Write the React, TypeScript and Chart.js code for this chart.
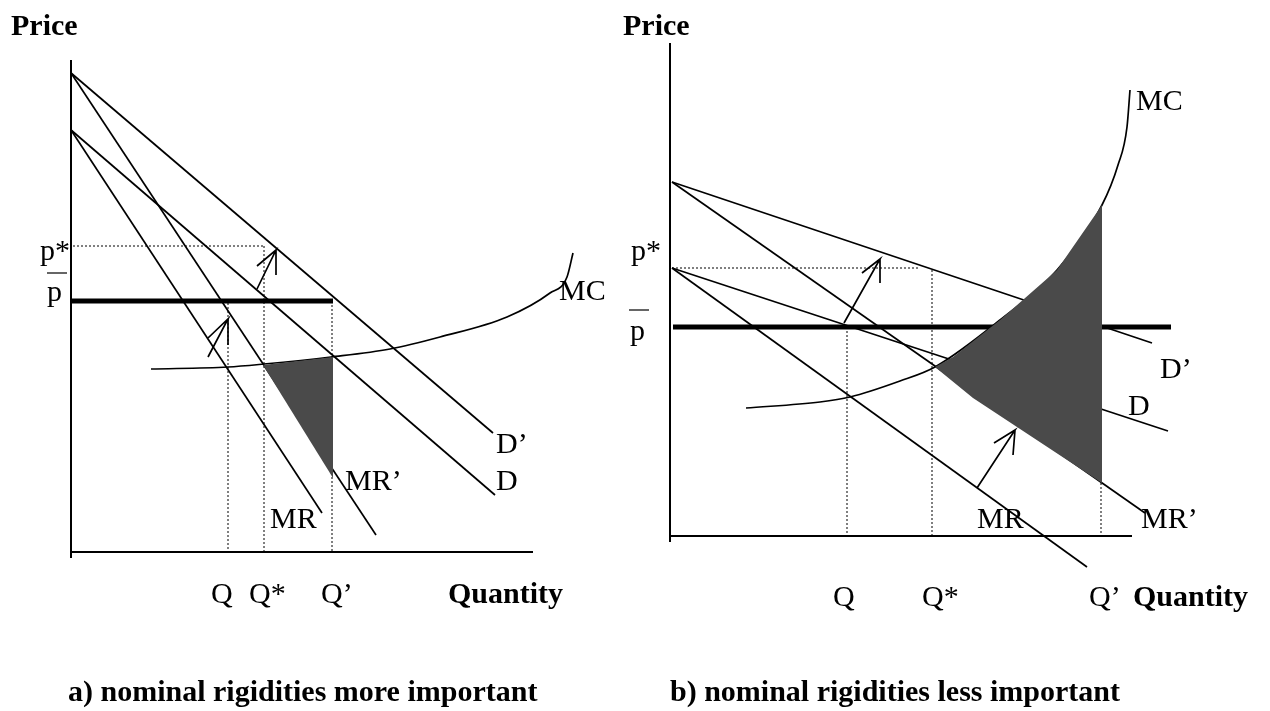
import React, { useEffect, useRef } from "react";
import { Chart, registerables } from "chart.js";
Chart.register(...registerables);

type P = { x: number; y: number };

// ---------- Panel a) nominal rigidities more important (quantity, price units) ----------
const aAxisY: P[] = [{ x: 0, y: -6 }, { x: 0, y: 492 }];
const aAxisX: P[] = [{ x: 0, y: 0 }, { x: 462, y: 0 }];
const aDemandNew: P[] = [{ x: 0, y: 479 }, { x: 422, y: 119 }]; // D'
const aMRNew: P[] = [{ x: 0, y: 479 }, { x: 305, y: 17 }]; // MR'
const aDemand: P[] = [{ x: 0, y: 422 }, { x: 424, y: 57 }]; // D
const aMR: P[] = [{ x: 0, y: 422 }, { x: 251, y: 39 }]; // MR
const aPbar: P[] = [{ x: 0, y: 251 }, { x: 262, y: 251 }];
const aPstar: P[] = [{ x: 2, y: 306 }, { x: 193, y: 306 }];
const aQ: P[] = [{ x: 157, y: 249 }, { x: 157, y: 0 }];
const aQstar: P[] = [{ x: 193, y: 306 }, { x: 193, y: 0 }];
const aQprime: P[] = [{ x: 261, y: 251 }, { x: 261, y: 0 }];
const aMC: P[] = [
  { x: 80, y: 183 }, { x: 157, y: 185 }, { x: 193, y: 188 }, { x: 260, y: 195 },
  { x: 319, y: 203 }, { x: 369, y: 215 }, { x: 436, y: 235 }, { x: 479, y: 259 },
  { x: 496, y: 275 }, { x: 502, y: 299 },
];
const aShade: P[] = [{ x: 192, y: 187 }, { x: 262, y: 195 }, { x: 262, y: 74 }];
const aArrow1: P[] = [{ x: 186, y: 263 }, { x: 205, y: 302 }, { x: 186, y: 286 }, { x: 205, y: 302 }, { x: 205, y: 277 }];
const aArrow2: P[] = [{ x: 137, y: 195 }, { x: 157, y: 233 }, { x: 137, y: 214 }, { x: 157, y: 233 }, { x: 157, y: 207 }];
const aBarMark: P[] = [{ x: -24, y: 279 }, { x: -4, y: 279 }];

// ---------- Panel b) nominal rigidities less important ----------
const bAxisY: P[] = [{ x: 0, y: -6 }, { x: 0, y: 493 }];
const bAxisX: P[] = [{ x: 0, y: 0 }, { x: 462, y: 0 }];
const bDemandNew: P[] = [{ x: 2, y: 354 }, { x: 482, y: 193 }]; // D'
const bMRNew: P[] = [{ x: 2, y: 354 }, { x: 475, y: 23 }]; // MR'
const bDemand: P[] = [{ x: 2, y: 268 }, { x: 498, y: 105 }]; // D
const bMR: P[] = [{ x: 2, y: 268 }, { x: 417, y: -31 }]; // MR
const bPbar: P[] = [{ x: 3, y: 209 }, { x: 501, y: 209 }];
const bPstar: P[] = [{ x: 2, y: 268 }, { x: 250, y: 268 }];
const bQ: P[] = [{ x: 177, y: 209 }, { x: 177, y: 0 }];
const bQstar: P[] = [{ x: 262, y: 266 }, { x: 262, y: 0 }];
const bQprime: P[] = [{ x: 431, y: 53 }, { x: 431, y: 0 }];
const bMC: P[] = [
  { x: 76, y: 128 }, { x: 150, y: 134 }, { x: 180, y: 139 }, { x: 230, y: 155 },
  { x: 265, y: 169 }, { x: 330, y: 216 }, { x: 387, y: 266 }, { x: 432, y: 331 },
  { x: 448, y: 371 }, { x: 457, y: 409 }, { x: 460, y: 446 },
];
const bShade: P[] = [
  { x: 265, y: 169 }, { x: 283, y: 179 }, { x: 330, y: 216 }, { x: 387, y: 266 },
  { x: 432, y: 331 }, { x: 432, y: 53 }, { x: 303, y: 138 },
];
const bArrow1: P[] = [{ x: 174, y: 213 }, { x: 210, y: 277 }, { x: 192, y: 263 }, { x: 210, y: 277 }, { x: 210, y: 253 }];
const bArrow2: P[] = [{ x: 307, y: 48 }, { x: 345, y: 106 }, { x: 324, y: 93 }, { x: 345, y: 106 }, { x: 343, y: 81 }];
const bBarMark: P[] = [{ x: -41, y: 226 }, { x: -21, y: 226 }];

// ---------- Labels ----------
type L = { t: string; x: number; y: number; b?: boolean };
const aLabels: L[] = [
  { t: "Price", x: -60, y: 517, b: true },
  { t: "p*", x: -31, y: 292 },
  { t: "p", x: -24, y: 251 },
  { t: "MR\u2019", x: 274, y: 62 },
  { t: "MR", x: 199, y: 24 },
  { t: "D\u2019", x: 425, y: 99 },
  { t: "D", x: 425, y: 62 },
  { t: "MC", x: 488, y: 252 },
  { t: "Q", x: 140, y: -51 },
  { t: "Q*", x: 178, y: -51 },
  { t: "Q\u2019", x: 250, y: -51 },
  { t: "Quantity", x: 377, y: -51, b: true },
  { t: "a) nominal rigidities more important", x: -3, y: -149, b: true },
];
const bLabels: L[] = [
  { t: "Price", x: -47, y: 501, b: true },
  { t: "p*", x: -39, y: 276 },
  { t: "p", x: -40, y: 196 },
  { t: "MC", x: 466, y: 426 },
  { t: "D\u2019", x: 490, y: 158 },
  { t: "D", x: 458, y: 121 },
  { t: "MR", x: 307, y: 8 },
  { t: "MR\u2019", x: 471, y: 8 },
  { t: "Q", x: 163, y: -70 },
  { t: "Q*", x: 252, y: -70 },
  { t: "Q\u2019", x: 419, y: -70 },
  { t: "Quantity", x: 463, y: -70, b: true },
  { t: "b) nominal rigidities less important", x: 0, y: -165, b: true },
];

const FONT = '"Liberation Serif", "Times New Roman", serif';

function line(data: P[], panel: "a" | "b", opts: any = {}) {
  return {
    data,
    xAxisID: "x" + panel,
    yAxisID: "y" + panel,
    showLine: true,
    pointRadius: 0,
    borderColor: "#000",
    backgroundColor: "#000",
    borderWidth: 1.7,
    fill: false,
    tension: 0,
    ...opts,
  };
}

const dotted = { borderWidth: 1, borderDash: [2, 2] };

const overlay = {
  id: "overlay",
  afterDatasetsDraw(chart: any) {
    const ctx = chart.ctx;
    const shades: [P[], string][] = [[aShade, "a"], [bShade, "b"]];
    ctx.save();
    for (const [pts, p] of shades) {
      const xs = chart.scales["x" + p];
      const ys = chart.scales["y" + p];
      ctx.beginPath();
      pts.forEach((pt, i) => {
        const px = xs.getPixelForValue(pt.x);
        const py = ys.getPixelForValue(pt.y);
        if (i === 0) ctx.moveTo(px, py);
        else ctx.lineTo(px, py);
      });
      ctx.closePath();
      ctx.fillStyle = "#4a4a4a";
      ctx.fill();
    }
    ctx.restore();
  },
  afterDraw(chart: any) {
    const ctx = chart.ctx;
    ctx.save();
    ctx.fillStyle = "#000";
    ctx.textAlign = "left";
    ctx.textBaseline = "alphabetic";
    const sets: [L[], string][] = [[aLabels, "a"], [bLabels, "b"]];
    for (const [labels, p] of sets) {
      const xs = chart.scales["x" + p];
      const ys = chart.scales["y" + p];
      for (const l of labels) {
        ctx.font = (l.b ? "bold " : "") + "30px " + FONT;
        ctx.fillText(l.t, xs.getPixelForValue(l.x), ys.getPixelForValue(l.y));
      }
    }
    ctx.restore();
  },
};

export default function App() {
  const ref = useRef<HTMLCanvasElement | null>(null);
  useEffect(() => {
    if (!ref.current) return;
    const datasets = [
      line(aAxisY, "a", { borderWidth: 2 }),
      line(aAxisX, "a", { borderWidth: 2 }),
      line(aDemandNew, "a"),
      line(aMRNew, "a"),
      line(aDemand, "a"),
      line(aMR, "a"),
      line(aPbar, "a", { borderWidth: 5 }),
      line(aPstar, "a", dotted),
      line(aQ, "a", dotted),
      line(aQstar, "a", dotted),
      line(aQprime, "a", dotted),
      line(aMC, "a", { cubicInterpolationMode: "monotone" }),
      line(aArrow1, "a"),
      line(aArrow2, "a"),
      line(aBarMark, "a", { borderWidth: 1.2 }),
      line(bAxisY, "b", { borderWidth: 2 }),
      line(bAxisX, "b", { borderWidth: 2 }),
      line(bDemandNew, "b"),
      line(bMRNew, "b"),
      line(bDemand, "b"),
      line(bMR, "b"),
      line(bPbar, "b", { borderWidth: 5 }),
      line(bPstar, "b", dotted),
      line(bQ, "b", dotted),
      line(bQstar, "b", dotted),
      line(bQprime, "b", dotted),
      line(bMC, "b", { cubicInterpolationMode: "monotone" }),
      line(bArrow1, "b"),
      line(bArrow2, "b"),
      line(bBarMark, "b", { borderWidth: 1.2 }),
    ];
    const chart = new Chart(ref.current, {
      type: "scatter",
      data: { datasets } as any,
      options: {
        animation: false,
        responsive: false,
        devicePixelRatio: 1,
        layout: { padding: 0 },
        plugins: { legend: { display: false }, tooltip: { enabled: false } },
        scales: {
          xa: { type: "linear", min: -71, max: 1199, display: false },
          ya: { type: "linear", min: -159, max: 552, display: false },
          xb: { type: "linear", min: -670, max: 600, display: false },
          yb: { type: "linear", min: -175, max: 536, display: false },
        },
      } as any,
      plugins: [overlay],
    });
    return () => chart.destroy();
  }, []);
  return (
    <div style={{ position: "absolute", left: 0, top: 0, width: 1270, height: 711, background: "#fff" }}>
      <canvas ref={ref} width={1270} height={711} style={{ display: "block" }} />
    </div>
  );
}
